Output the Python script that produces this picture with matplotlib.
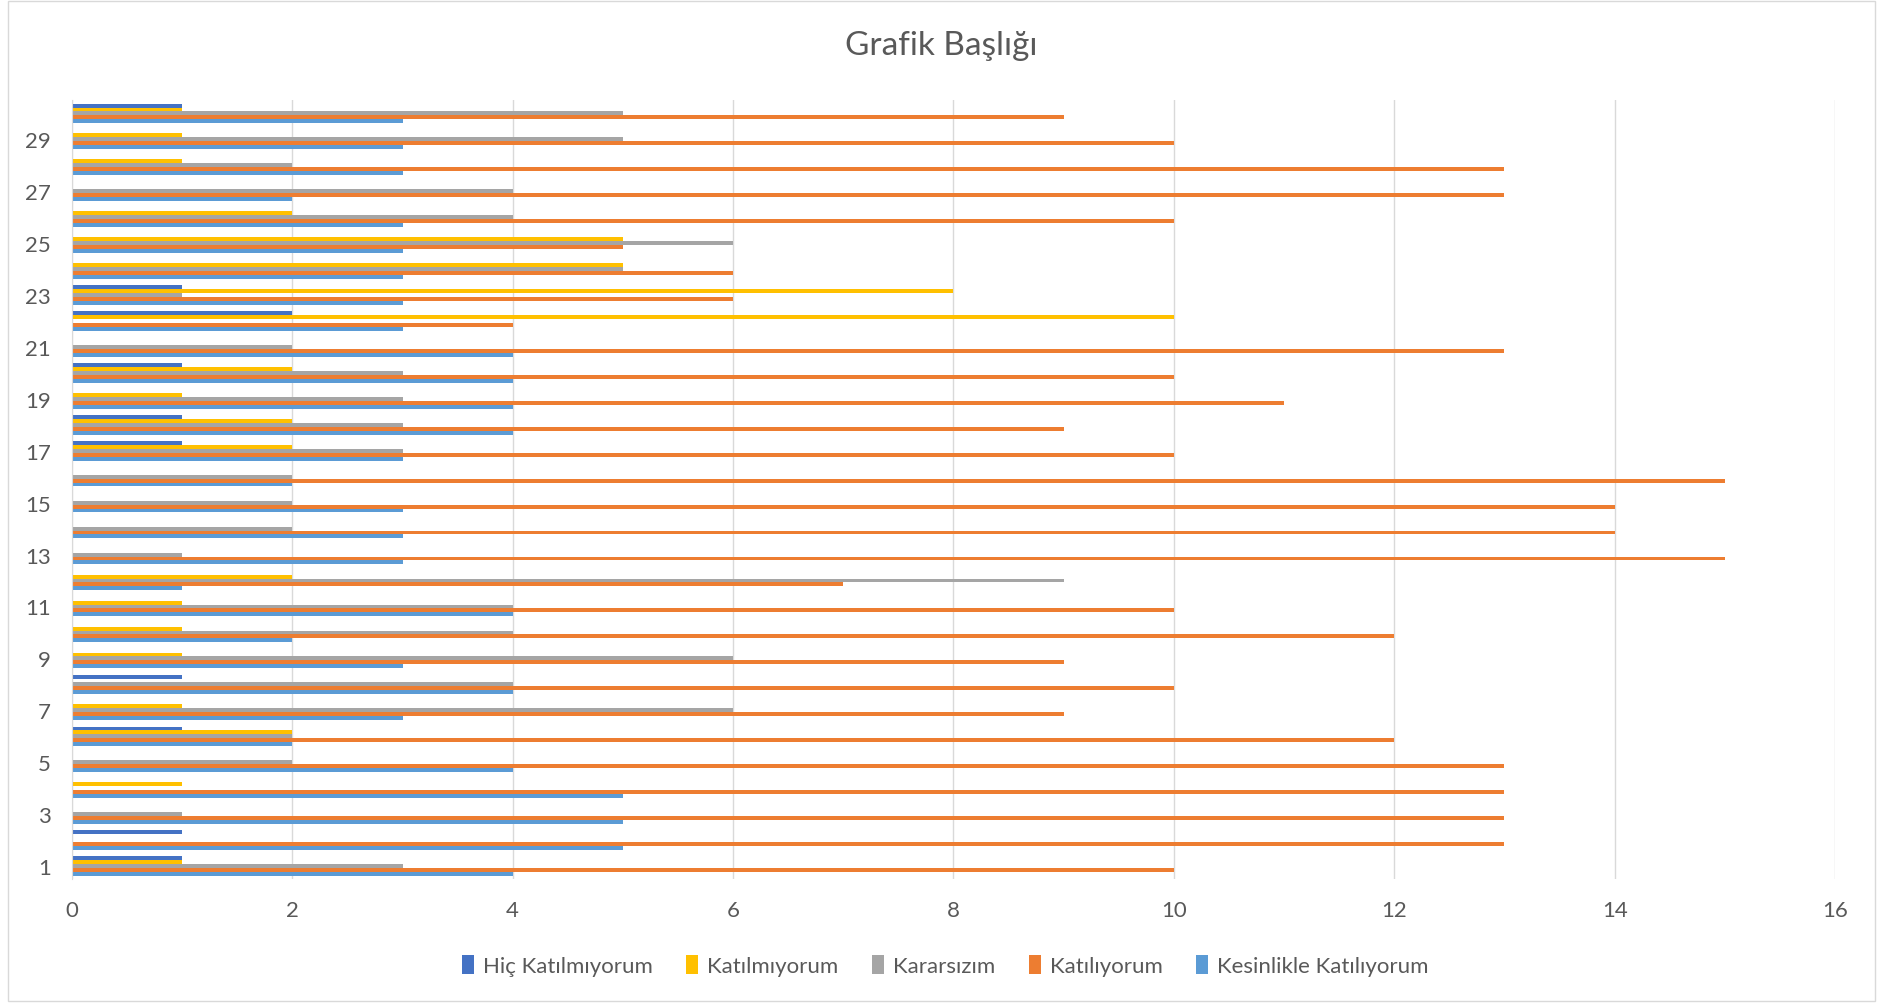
import matplotlib.pyplot as plt
import numpy as np
from matplotlib.patches import Rectangle

plt.rcParams['font.family'] = ['Lato', 'DejaVu Sans']

kategoriler = list(range(1, 31))

# series listed bottom-to-top inside each group
kesinlikle = [4, 5, 5, 5, 4, 2, 3, 4, 3, 2, 4, 1, 3, 3, 3, 2, 3, 4, 4, 4, 4, 3, 3, 3, 3, 3, 2, 3, 3, 3]
katiliyorum = [10, 13, 13, 13, 13, 12, 9, 10, 9, 12, 10, 7, 15, 14, 14, 15, 10, 9, 11, 10, 13, 4, 6, 6, 5, 10, 13, 13, 10, 9]
kararsizim = [3, 0, 1, 0, 2, 2, 6, 4, 6, 4, 4, 9, 1, 2, 2, 2, 3, 3, 3, 3, 2, 0, 1, 5, 6, 4, 4, 2, 5, 5]
katilmiyorum = [1, 0, 0, 1, 0, 2, 1, 0, 1, 1, 1, 2, 0, 0, 0, 0, 2, 2, 1, 2, 0, 10, 8, 5, 5, 2, 0, 1, 1, 1]
hic = [1, 1, 0, 0, 0, 1, 0, 1, 0, 0, 0, 0, 0, 0, 0, 0, 1, 1, 0, 1, 0, 2, 1, 0, 0, 0, 0, 0, 0, 1]

seriler = [
    ("Kesinlikle Katılıyorum", kesinlikle, "#5B9BD5"),
    ("Katılıyorum", katiliyorum, "#ED7D31"),
    ("Kararsızım", kararsizim, "#A5A5A5"),
    ("Katılmıyorum", katilmiyorum, "#FFC000"),
    ("Hiç Katılmıyorum", hic, "#4472C4"),
]

fig = plt.figure(figsize=(18.83, 10.04), dpi=100)
ax = fig.add_axes([0.0382, 0.1235, 0.9363, 0.7755])

y = np.array(kategoriler)
h = 0.15
bars = {}
for i, (ad, vals, renk) in enumerate(seriler):
    bars[ad] = ax.barh(y + (i - 2) * h, vals, height=h, color=renk, label=ad)

ax.set_xlim(0, 16)
ax.set_ylim(0.5, 30.5)
ax.set_xticks(range(0, 17, 2))
ax.set_yticks(kategoriler)
ax.set_yticklabels([str(k) if k % 2 == 1 else "" for k in kategoriler])
ax.tick_params(axis='x', length=0, pad=15, labelsize=16, labelcolor="#595959")
ax.tick_params(axis='y', length=0, pad=15, labelsize=16, labelcolor="#595959")
ax.grid(axis='x', color="#D9D9D9", linewidth=1)
ax.set_axisbelow(True)
for s in ['top', 'right', 'bottom']:
    ax.spines[s].set_visible(False)
ax.spines['left'].set_color("#D9D9D9")

fig.text(0.5, 0.954, "Grafik Başlığı", ha='center', va='center', fontsize=24, color="#595959")

sira = ["Hiç Katılmıyorum", "Katılmıyorum", "Kararsızım", "Katılıyorum", "Kesinlikle Katılıyorum"]
leg = fig.legend([bars[s] for s in sira], sira, loc='center', bbox_to_anchor=(0.502, 0.037),
                 ncol=5, frameon=False, fontsize=16, handlelength=0.55, handleheight=0.9,
                 handletextpad=0.4, columnspacing=1.5)
for t in leg.get_texts():
    t.set_color("#595959")

fig.patches.append(Rectangle((0.004, 0.002), 0.992, 0.996, transform=fig.transFigure,
                             fill=False, edgecolor="#D9D9D9", linewidth=1))

fig.savefig("out.png", dpi=100, facecolor="white")
